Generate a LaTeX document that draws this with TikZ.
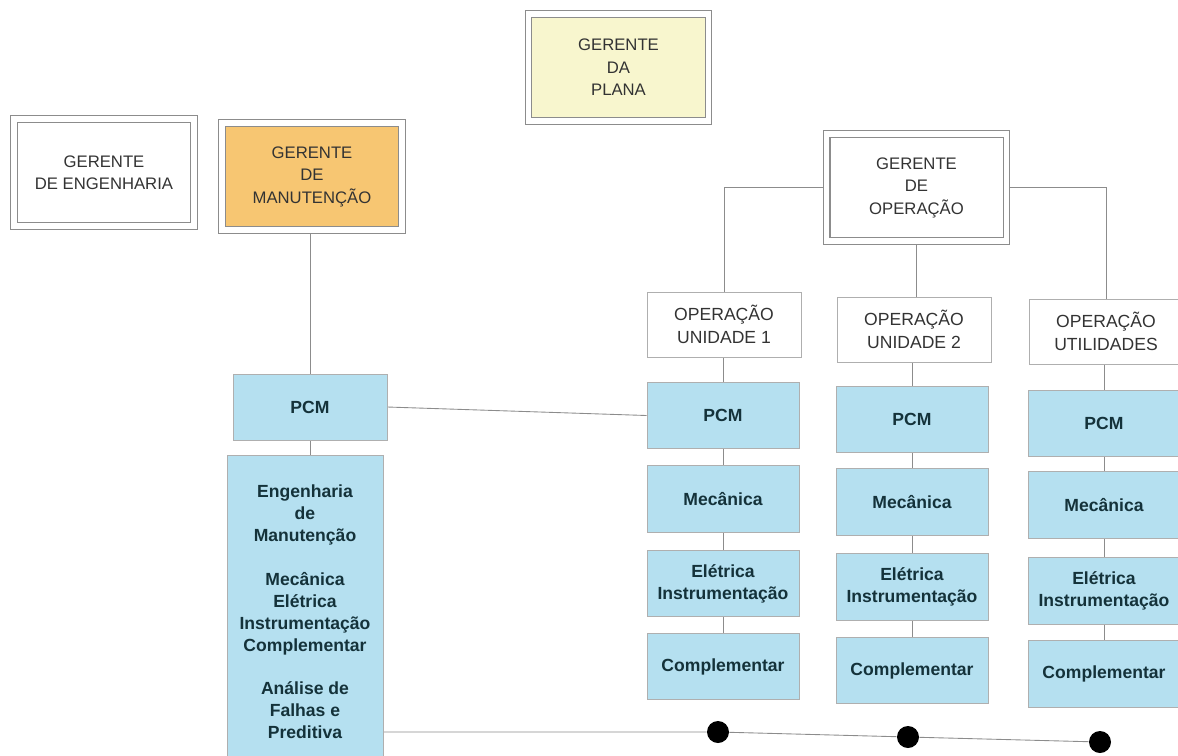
\documentclass[tikz,border=0pt]{standalone}
\usepackage{fontspec}
\setmainfont{Liberation Sans}
\usetikzlibrary{backgrounds}
\definecolor{linha}{HTML}{8C8C8C}
\definecolor{azul}{HTML}{B5E0F0}
\definecolor{laranja}{HTML}{F7C672}
\definecolor{creme}{HTML}{F8F6CE}
\definecolor{texto}{HTML}{333333}
\definecolor{tinta}{HTML}{14323A}

\tikzset{
  chefe/.style={draw=linha, line width=0.7pt, double=white, double distance=0.11cm,
    fill=white, minimum width=3.6cm, minimum height=2.15cm, align=center,
    text=texto, font=\fontsize{9.5}{12.8}\selectfont},
  setor/.style={draw=linha!70, line width=0.5pt, fill=white, minimum width=3.08cm,
    minimum height=1.3cm, align=center, text=texto, font=\fontsize{10}{13}\selectfont},
  tarefa/.style={draw=linha!70, line width=0.5pt, fill=azul, minimum width=3.04cm,
    minimum height=1.33cm, align=center, text=tinta,
    font=\fontsize{10}{12.5}\selectfont\bfseries},
  ponto/.style={circle, fill=black, minimum size=0.44cm, inner sep=0pt},
  liga/.style={draw=linha, line width=0.5pt}
}

\begin{document}
\begin{tikzpicture}[x=0.02cm, y=-0.02cm]
\useasboundingbox (0,0) rectangle (1178,755);

\node[chefe, fill=creme] (plana) at (618.5,67.5) {GERENTE\\DA\\PLANA};
\node[chefe] (eng) at (104,172.5) {GERENTE\\DE ENGENHARIA};
\node[chefe, fill=laranja] (man) at (312,176.5) {GERENTE\\DE\\MANUTENÇÃO};
\node[chefe] (oper) at (916.5,187.5) {GERENTE\\DE\\OPERAÇÃO};

\node[setor] (ou1) at (724,324.5) {OPERAÇÃO\\UNIDADE 1};
\node[setor] (ou2) at (914,329.5) {OPERAÇÃO\\UNIDADE 2};
\node[setor] (ou3) at (1106,331.5) {OPERAÇÃO\\UTILIDADES};

\node[tarefa, minimum width=3.08cm, minimum height=1.32cm] (lpcm) at (310,407) {PCM};
\node[tarefa, minimum width=3.12cm, minimum height=6.26cm] (lbig) at (305,611.5)
  {Engenharia\\de\\Manutenção\\[12.5pt]Mecânica\\Elétrica\\Instrumentação\\Complementar\\[12pt]Análise de\\Falhas e\\Preditiva};

\node[tarefa] (p1) at (723,415.5) {PCM};
\node[tarefa] (m1) at (723,499) {Mecânica};
\node[tarefa] (e1) at (723,583.5) {Elétrica\\Instrumentação};
\node[tarefa] (c1) at (723,666.5) {Complementar};

\node[tarefa] (p2) at (912,419.5) {PCM};
\node[tarefa] (m2) at (912,502) {Mecânica};
\node[tarefa] (e2) at (912,587) {Elétrica\\Instrumentação};
\node[tarefa] (c2) at (912,670.5) {Complementar};

\node[tarefa] (p3) at (1104,423.5) {PCM};
\node[tarefa] (m3) at (1104,505) {Mecânica};
\node[tarefa] (e3) at (1104,591) {Elétrica\\Instrumentação};
\node[tarefa] (c3) at (1104,674) {Complementar};

\node[ponto] (d1) at (718,732) {};
\node[ponto] (d2) at (908,737) {};
\node[ponto] (d3) at (1100,742) {};

\begin{scope}[on background layer]
\draw[liga] (oper.west) -| (ou1.north);
\draw[liga] (oper.south) -- (oper.south |- ou2.north);
\draw[liga] (oper.east) -| (ou3.north);
\draw[liga] (lpcm.north) -- (lpcm.north |- man.south);
\draw[liga] (lpcm.south) -- (lpcm.south |- lbig.north);
\draw[liga] (lpcm.east) -- (p1.west);
\draw[liga] (p1.north) -- (p1.north |- ou1.south) (p1) -- (m1) (m1) -- (e1) (e1) -- (c1);
\draw[liga] (p2.north) -- (p2.north |- ou2.south) (p2) -- (m2) (m2) -- (e2) (e2) -- (c2);
\draw[liga] (p3.north) -- (p3.north |- ou3.south) (p3) -- (m3) (m3) -- (e3) (e3) -- (c3);
\draw[liga] (lbig.east |- d1) -- (d1) -- (d2) -- (d3);
\end{scope}
\end{tikzpicture}
\end{document}
